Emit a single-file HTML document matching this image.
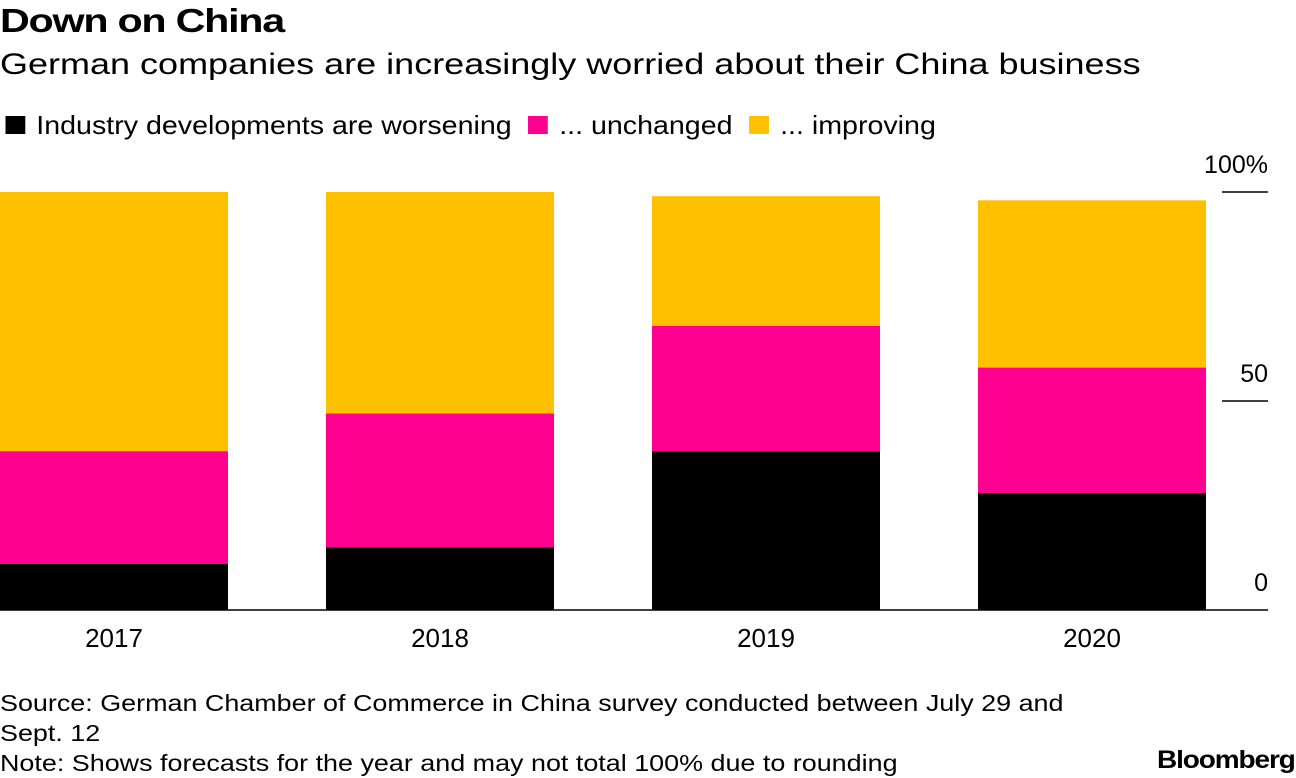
<!DOCTYPE html>
<html><head><meta charset="utf-8"><style>
body{margin:0;width:1296px;height:776px;background:#fff;font-family:"Liberation Sans",Arial,sans-serif;color:#000;overflow:hidden;position:relative}
.t{position:absolute;white-space:nowrap;transform-origin:0 0}
</style></head><body>
<div class="t" style="left:0;top:2px;font-size:33px;font-weight:bold;letter-spacing:-1px;transform:scaleX(1.25)">Down on China</div>
<div class="t" style="left:0;top:48px;font-size:30px;transform:scaleX(1.2)">German companies are increasingly worried about their China business</div>
<div class="t" style="left:0;top:110px;font-size:26px;transform:scaleX(1.1)">
<span><span style="display:inline-block;width:18px;height:18px;background:#000;margin:0 10px 0 5px"></span>Industry developments are worsening</span>
<span><span style="display:inline-block;width:18px;height:18px;background:#ff0090;margin:0 10px 0 8px"></span>... unchanged</span>
<span><span style="display:inline-block;width:18px;height:18px;background:#ffc000;margin:0 10px 0 8px"></span>... improving</span>
</div>
<svg id="chart" width="1296" height="776" style="position:absolute;left:0;top:0"></svg>
<div class="t" style="left:0;top:688px;font-size:23px;line-height:30px;transform:scaleX(1.17)">Source: German Chamber of Commerce in China survey conducted between July 29 and<br>Sept. 12<br>Note: Shows forecasts for the year and may not total 100% due to rounding</div>
<div class="t" style="left:1157px;top:746px;font-size:25px;font-weight:bold;letter-spacing:-1px;transform:scaleX(1.12)">Bloomberg</div>
<script>
const categories=["2017","2018","2019","2020"];
const worsening=[11,15,38,28];
const unchanged=[27,32,30,30];
const improving=[62,53,31,40];
const ticks=[0,50,100];
const tickLabels=["0","50","100%"];
const svg=document.getElementById('chart');
const NS="http://www.w3.org/2000/svg";
const y0=610,pxPer=4.18;
const y=v=>y0-v*pxPer;
const x=i=>i*326;
const bw=228;
function mk(tag,attrs){const e=document.createElementNS(NS,tag);for(const k in attrs)e.setAttribute(k,attrs[k]);svg.appendChild(e);return e;}
const series=[[worsening,"#000","worsening"],[unchanged,"#ff0090","unchanged"],[improving,"#ffc000","improving"]];
categories.forEach((c,i)=>{
 let base=0;
 series.forEach(([arr,col,nm])=>{
  const r=mk('rect',{x:x(i),y:y(base+arr[i]),width:bw,height:arr[i]*pxPer,fill:col});
  
  
  base+=arr[i];
 });
 const t=mk('text',{x:x(i)+bw/2,y:647,'text-anchor':'middle','font-size':26,'font-family':'Liberation Sans, Arial, sans-serif'});
 t.textContent=c;
 
 
});
const ax=mk('line',{x1:0,x2:1268,y1:y0,y2:y0,stroke:'#000','stroke-width':1.5});


ticks.forEach((v,i)=>{
 if(v>0){const l=mk('line',{x1:1222,x2:1268,y1:y(v),y2:y(v),stroke:'#000','stroke-width':1.5});
 
 }
 const t=mk('text',{x:1268,y:y(v)-19,'text-anchor':'end','font-size':25,'font-family':'Liberation Sans, Arial, sans-serif'});
 t.textContent=tickLabels[i];
 
 
});
</script>
</body></html>
